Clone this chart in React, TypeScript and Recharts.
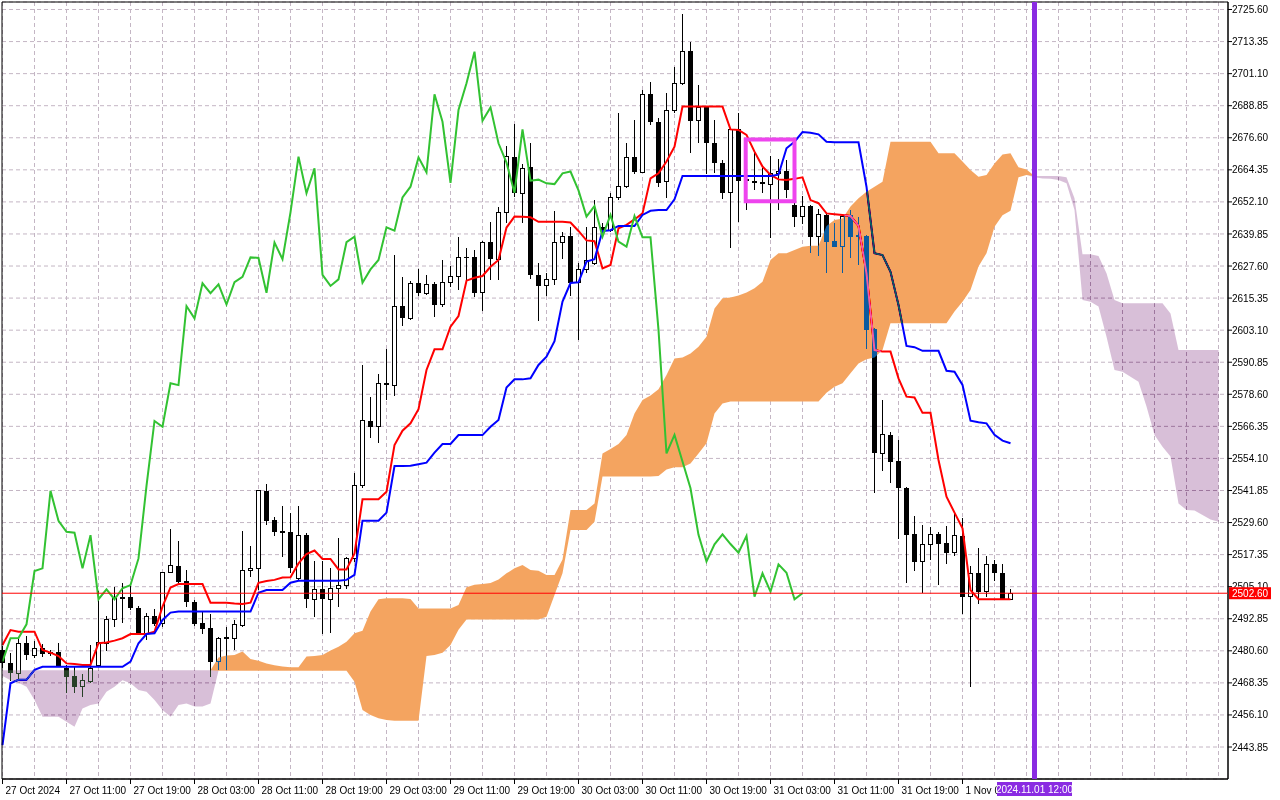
import React from "react";
import {
  ComposedChart,
  Area,
  Bar,
  Line,
  XAxis,
  YAxis,
  CartesianGrid,
  ReferenceLine,
  ReferenceArea,
} from "recharts";

const FONT = "'Liberation Sans', Arial, sans-serif";

// time axis: one label every 8 hourly bars
const timeTickBars = [0, 8, 16, 24, 32, 40, 48, 56, 64, 72, 80, 88, 96, 104, 112, 120];
const timeTickLabels = [
  "27 Oct 2024", "27 Oct 11:00", "27 Oct 19:00", "28 Oct 03:00", "28 Oct 11:00", "28 Oct 19:00",
  "29 Oct 03:00", "29 Oct 11:00", "29 Oct 19:00", "30 Oct 03:00", "30 Oct 11:00", "30 Oct 19:00",
  "31 Oct 03:00", "31 Oct 11:00", "31 Oct 19:00", "1 Nov 03:00",
];
const gridBars = [
  0, 4, 8, 12, 16, 20, 24, 28, 32, 36, 40, 44, 48, 52, 56, 60, 64, 68, 72, 76,
  80, 84, 88, 92, 96, 100, 104, 108, 112, 116, 120, 124, 128, 132, 136, 140, 144, 148, 152,
];
const priceTicks = [
  2443.85, 2456.1, 2468.35, 2480.6, 2492.85, 2505.1, 2517.35, 2529.6, 2541.85, 2554.1, 2566.35, 2578.6,
  2590.85, 2603.1, 2615.35, 2627.6, 2639.85, 2652.1, 2664.35, 2676.6, 2688.85, 2701.1, 2713.35, 2725.6,
];

const opens = [
  2480.9, 2476.1, 2472.0, 2483.5, 2478.9, 2481.5, 2479.6, 2480.1, 2474.2, 2471.0,
  2466.9, 2468.8, 2474.9, 2483.5, 2492.6, 2500.8, 2501.3, 2497.1, 2487.3, 2493.9,
  2491.1, 2510.6, 2513.1, 2507.3, 2499.1, 2491.3, 2489.3, 2476.7, 2485.2, 2485.4,
  2490.4, 2511.1, 2512.1, 2541.7, 2530.6, 2526.4, 2526.1, 2508.3, 2524.8, 2500.3,
  2504.1, 2500.3, 2504.5, 2505.7, 2515.9, 2543.6, 2568.4, 2566.2, 2583.0, 2582.1,
  2612.3, 2607.6, 2621.0, 2617.2, 2620.6, 2612.9, 2621.4, 2623.5, 2630.9, 2630.9,
  2617.4, 2636.6, 2630.2, 2648.1, 2669.4, 2655.4, 2665.3, 2624.2, 2620.0, 2622.5,
  2636.7, 2639.1, 2621.2, 2626.3, 2628.6, 2642.4, 2641.1, 2653.8, 2657.9, 2669.1,
  2663.4, 2693.2, 2682.7, 2659.8, 2687.2, 2697.4, 2709.7, 2683.1, 2688.2, 2674.5,
  2667.1, 2655.6, 2679.8, 2660.2, 2660.1, 2659.6, 2658.9, 2662.9, 2663.9, 2650.9,
  2646.5, 2650.5, 2638.8, 2647.1, 2637.3, 2635.0, 2647.0, 2639.5, 2639.1, 2603.4,
  2556.0, 2563.1, 2553.1, 2542.9, 2525.1, 2514.7, 2521.3, 2525.1, 2521.7, 2518.1,
  2524.5, 2501.3, 2510.2, 2503.2, 2513.6, 2510.4, 2500.3,
];
const highs = [
  2482.5, 2479.9, 2485.4, 2486.3, 2484.5, 2483.2, 2481.0, 2483.5, 2475.2, 2474.5,
  2471.7, 2482.8, 2503.6, 2494.0, 2504.8, 2506.4, 2506.4, 2497.7, 2495.2, 2496.4,
  2510.8, 2527.0, 2522.7, 2511.5, 2500.0, 2495.6, 2494.7, 2486.0, 2489.8, 2492.4,
  2526.4, 2520.6, 2542.0, 2544.3, 2531.6, 2535.9, 2533.1, 2535.9, 2525.7, 2515.0,
  2515.0, 2512.1, 2523.6, 2516.6, 2548.4, 2589.8, 2577.7, 2586.4, 2595.8, 2631.8,
  2623.5, 2622.0, 2626.3, 2624.2, 2621.6, 2629.9, 2627.6, 2638.5, 2634.4, 2633.7,
  2637.3, 2644.5, 2650.3, 2673.4, 2681.9, 2666.6, 2674.5, 2628.6, 2624.8, 2648.6,
  2640.7, 2642.4, 2628.6, 2642.4, 2652.8, 2643.9, 2655.6, 2685.9, 2674.5, 2683.4,
  2694.8, 2698.0, 2684.0, 2693.6, 2703.5, 2723.9, 2713.3, 2696.8, 2688.7, 2683.4,
  2668.1, 2680.2, 2686.2, 2665.0, 2670.7, 2664.9, 2669.6, 2668.4, 2668.1, 2652.8,
  2654.4, 2650.9, 2649.3, 2647.4, 2643.9, 2647.0, 2649.0, 2646.5, 2639.5, 2604.0,
  2576.4, 2564.1, 2561.1, 2543.1, 2532.1, 2528.7, 2528.0, 2526.1, 2528.3, 2533.1,
  2531.2, 2513.0, 2519.8, 2516.8, 2515.3, 2513.8, 2504.2,
];
const lows = [
  2474.0, 2469.2, 2469.5, 2477.1, 2477.7, 2478.4, 2478.6, 2474.5, 2464.6, 2464.6,
  2463.1, 2468.2, 2474.5, 2480.5, 2489.8, 2491.3, 2496.2, 2487.3, 2484.7, 2490.1,
  2489.8, 2510.2, 2506.4, 2497.5, 2490.1, 2487.0, 2470.5, 2473.3, 2473.3, 2480.9,
  2489.8, 2508.7, 2504.0, 2528.7, 2524.5, 2516.6, 2510.5, 2507.7, 2496.8, 2493.4,
  2487.0, 2487.5, 2497.2, 2504.1, 2514.7, 2542.7, 2561.8, 2560.1, 2576.4, 2577.9,
  2604.7, 2607.0, 2616.1, 2616.5, 2608.2, 2612.1, 2619.5, 2618.4, 2622.2, 2615.6,
  2610.5, 2622.2, 2622.2, 2643.9, 2653.8, 2643.9, 2622.5, 2606.7, 2616.2, 2620.3,
  2630.2, 2616.2, 2599.3, 2624.8, 2628.0, 2638.8, 2640.7, 2652.8, 2657.3, 2662.8,
  2663.0, 2681.5, 2657.9, 2653.5, 2685.9, 2696.8, 2670.7, 2674.7, 2662.8, 2663.0,
  2653.1, 2634.3, 2644.5, 2649.0, 2656.6, 2655.4, 2638.2, 2649.0, 2653.5, 2642.6,
  2643.7, 2632.7, 2631.4, 2625.1, 2634.8, 2625.1, 2630.6, 2628.0, 2595.8, 2540.8,
  2549.4, 2544.8, 2523.2, 2506.4, 2511.2, 2502.8, 2515.3, 2505.8, 2513.8, 2516.8,
  2494.7, 2466.9, 2498.5, 2501.3, 2507.4, 2500.3, 2500.3,
];
const closes = [
  2475.8, 2472.0, 2483.5, 2478.9, 2481.5, 2479.3, 2479.9, 2474.8, 2470.7, 2466.9,
  2469.1, 2473.9, 2483.8, 2492.7, 2500.6, 2501.0, 2496.8, 2487.5, 2493.9, 2490.8,
  2510.6, 2513.1, 2507.0, 2499.1, 2490.8, 2489.0, 2476.5, 2485.4, 2485.5, 2490.7,
  2511.1, 2512.1, 2541.7, 2530.3, 2526.1, 2525.7, 2512.1, 2524.8, 2500.3, 2504.1,
  2500.3, 2504.5, 2505.7, 2515.9, 2543.6, 2568.4, 2566.2, 2582.8, 2582.1, 2612.3,
  2607.6, 2621.0, 2617.2, 2620.6, 2612.9, 2621.4, 2623.5, 2630.9, 2630.7, 2617.4,
  2636.6, 2630.2, 2648.1, 2669.4, 2655.4, 2664.9, 2624.2, 2620.0, 2622.5, 2636.7,
  2638.8, 2621.2, 2626.3, 2629.9, 2642.4, 2641.1, 2653.8, 2657.9, 2669.1, 2663.4,
  2693.2, 2682.7, 2659.4, 2687.2, 2697.4, 2709.5, 2683.1, 2688.2, 2674.5, 2667.1,
  2655.6, 2679.8, 2660.2, 2660.6, 2659.2, 2658.9, 2663.0, 2663.7, 2656.5, 2646.5,
  2650.5, 2638.8, 2647.1, 2636.9, 2635.0, 2646.7, 2638.6, 2638.6, 2603.2, 2556.0,
  2563.1, 2552.9, 2542.7, 2524.9, 2514.7, 2521.3, 2525.1, 2521.4, 2518.1, 2524.5,
  2501.3, 2510.2, 2503.2, 2513.6, 2510.4, 2500.3, 2502.6,
];

const tenkan = [
  2482.8, 2488.5, 2487.9, 2487.9, 2487.9, 2480.9, 2479.9, 2478.6, 2475.8, 2475.6,
  2475.2, 2475.2, 2483.5, 2483.8, 2484.5, 2485.4, 2487.0, 2487.0, 2487.0, 2487.9,
  2497.5, 2504.8, 2506.1, 2506.1, 2506.1, 2506.1, 2499.0, 2499.0, 2499.0, 2498.7,
  2498.5, 2499.0, 2506.6, 2507.3, 2507.7, 2508.6, 2508.7, 2514.0, 2517.6, 2518.9,
  2515.7, 2515.7, 2511.7, 2511.7, 2517.8, 2538.5, 2538.5, 2538.5, 2541.4, 2559.2,
  2564.7, 2567.5, 2572.9, 2587.9, 2595.8, 2595.8, 2604.4, 2608.5, 2622.0, 2623.1,
  2623.8, 2627.3, 2629.9, 2642.3, 2646.5, 2646.4, 2646.2, 2644.5, 2644.5, 2644.5,
  2644.5, 2644.2, 2641.0, 2637.4, 2637.1, 2626.7, 2628.0, 2642.0, 2643.3, 2645.4,
  2647.7, 2661.1, 2663.0, 2667.5, 2673.2, 2688.5, 2688.5, 2688.5, 2688.5, 2688.5,
  2688.5, 2679.8, 2679.6, 2677.7, 2671.3, 2665.6, 2662.4, 2660.7, 2660.5, 2660.9,
  2661.5, 2652.8, 2651.6, 2647.7, 2647.4, 2647.1, 2646.7, 2642.9, 2624.8, 2595.5,
  2594.9, 2594.9, 2584.7, 2577.7, 2577.4, 2571.5, 2571.5, 2553.5, 2539.5, 2533.4,
  2527.4, 2503.8, 2500.3, 2500.3, 2500.3, 2500.3, 2500.3,
];
const kijun = [
  2444.6, 2468.2, 2469.5, 2469.5, 2473.3, 2474.5, 2474.5, 2474.5, 2474.5, 2474.5,
  2474.5, 2474.5, 2474.5, 2474.5, 2474.5, 2474.5, 2476.5, 2483.5, 2487.0, 2487.3,
  2492.4, 2495.2, 2495.6, 2495.6, 2495.6, 2495.6, 2495.6, 2495.6, 2495.6, 2495.6,
  2495.6, 2495.6, 2502.8, 2503.8, 2503.8, 2503.8, 2506.6, 2507.4, 2507.4, 2507.4,
  2507.4, 2507.4, 2507.4, 2507.7, 2509.6, 2530.3, 2530.3, 2530.3, 2533.4, 2551.2,
  2551.2, 2551.3, 2551.9, 2552.5, 2556.3, 2559.6, 2559.6, 2563.0, 2563.0, 2563.0,
  2563.0, 2566.2, 2568.8, 2581.2, 2584.3, 2584.3, 2584.7, 2589.8, 2593.0, 2598.9,
  2614.0, 2621.1, 2621.4, 2629.3, 2630.2, 2641.0, 2641.3, 2642.9, 2642.9, 2642.9,
  2647.1, 2648.7, 2649.0, 2649.0, 2653.1, 2662.0, 2662.0, 2662.0, 2662.0, 2662.0,
  2662.0, 2662.0, 2662.0, 2662.0, 2662.0, 2662.0, 2662.0, 2662.5, 2672.6, 2675.1,
  2678.8, 2678.5, 2677.9, 2675.1, 2674.9, 2674.9, 2674.9, 2674.9, 2657.9, 2632.5,
  2631.8, 2625.4, 2612.7, 2597.1, 2596.6, 2595.2, 2595.2, 2595.2, 2587.6, 2587.2,
  2582.2, 2568.5, 2567.9, 2567.5, 2563.1, 2560.9, 2559.9,
];

// senkou spans, already placed at the bars where they are drawn (26 ahead)
const spanA = [
  2471.0, 2469.4, 2468.4, 2466.9, 2461.8, 2455.4, 2455.4, 2455.4, 2453.5, 2451.6,
  2458.6, 2459.9, 2460.5, 2465.0, 2466.9, 2469.4, 2468.2, 2465.6, 2465.0, 2461.8,
  2458.0, 2455.4, 2459.9, 2460.5, 2459.3, 2459.3, 2460.5, 2478.0, 2478.8, 2479.0,
  2480.3, 2477.5, 2476.8, 2475.8, 2475.1, 2474.6, 2474.3, 2474.3, 2478.4, 2478.6,
  2479.0, 2480.7, 2482.2, 2484.1, 2487.3, 2488.3, 2495.6, 2500.3, 2500.7, 2500.7,
  2500.7, 2500.4, 2496.8, 2496.8, 2496.8, 2496.8, 2496.8, 2498.1, 2504.9, 2505.8,
  2506.1, 2506.5, 2507.8, 2510.2, 2512.1, 2513.4, 2511.5, 2511.2, 2509.6, 2509.6,
  2515.5, 2534.4, 2534.4, 2534.4, 2536.9, 2556.0, 2557.7, 2559.6, 2563.0, 2571.3,
  2576.4, 2578.1, 2580.5, 2586.0, 2592.3, 2592.7, 2594.2, 2596.8, 2600.6, 2611.4,
  2615.3, 2615.6, 2616.3, 2617.5, 2619.1, 2621.6, 2629.9, 2632.5, 2632.5, 2633.7,
  2635.0, 2635.3, 2635.3, 2642.9, 2645.2, 2645.8, 2650.3, 2653.5, 2656.0, 2657.9,
  2659.8, 2675.1, 2675.1, 2675.1, 2675.1, 2675.1, 2675.1, 2670.7, 2670.7, 2670.7,
  2667.5, 2664.3, 2661.7, 2662.4, 2666.8, 2670.2, 2670.7, 2665.3, 2664.5, 2661.5,
  2661.0, 2660.9, 2660.5, 2659.2, 2649.0, 2614.6, 2614.0, 2612.1, 2600.6, 2587.9,
  2587.2, 2585.3, 2583.4, 2573.9, 2563.0, 2558.6, 2554.8, 2536.9, 2534.4, 2534.2,
  2532.5, 2530.8, 2529.9,
];
const spanB = [
  2473.2, 2473.2, 2473.2, 2473.2, 2473.2, 2473.2, 2473.2, 2473.2, 2473.2, 2473.2,
  2473.2, 2473.2, 2473.2, 2473.2, 2473.2, 2473.2, 2473.2, 2473.2, 2473.2, 2473.2,
  2473.2, 2473.2, 2473.2, 2473.2, 2473.2, 2473.2, 2473.2, 2473.0, 2473.0, 2473.0,
  2473.0, 2473.0, 2473.0, 2473.0, 2473.0, 2473.0, 2473.0, 2473.0, 2473.0, 2473.0,
  2473.0, 2473.0, 2473.0, 2473.0, 2468.8, 2458.0, 2456.1, 2454.8, 2454.2, 2453.9,
  2453.9, 2453.9, 2453.9, 2478.6, 2479.0, 2479.9, 2482.8, 2488.6, 2492.6, 2492.6,
  2492.6, 2492.6, 2492.6, 2492.6, 2492.6, 2492.6, 2492.6, 2492.6, 2493.6, 2501.9,
  2510.2, 2526.8, 2526.8, 2526.8, 2529.9, 2547.2, 2547.2, 2547.2, 2547.2, 2547.2,
  2547.2, 2547.2, 2547.4, 2549.9, 2550.7, 2550.7, 2552.2, 2556.0, 2559.9, 2571.3,
  2575.1, 2575.8, 2575.8, 2575.8, 2575.8, 2575.8, 2575.8, 2575.8, 2575.8, 2575.8,
  2575.8, 2575.8, 2575.8, 2579.2, 2581.5, 2582.8, 2586.6, 2590.4, 2592.0, 2592.7,
  2595.5, 2605.7, 2605.7, 2605.7, 2605.7, 2605.7, 2605.7, 2605.7, 2605.7, 2610.2,
  2614.0, 2618.4, 2627.4, 2632.5, 2642.6, 2647.0, 2648.7, 2661.5, 2662.4, 2662.0,
  2662.0, 2662.0, 2662.0, 2661.5, 2653.5, 2632.1, 2632.1, 2631.4, 2624.8, 2614.6,
  2613.4, 2613.4, 2613.4, 2613.4, 2613.4, 2613.4, 2609.5, 2595.5, 2595.5, 2595.5,
  2595.5, 2595.5, 2595.5,
];

const CHIKOU_SHIFT = 26;
const markerBar = 129;
const markerLabel = "2024.11.01 12:00";
const highlight = { x1: 92.9, x2: 99, y1: 2652.3, y2: 2675.9 };

const X_MIN = -0.0625;
const X_MAX = 153.1875;
const Y_MIN = 2431.63;
const Y_MAX = 2728.465;

const rows = spanA.map((a, i) => {
  const b = spanB[i];
  const has = i < closes.length;
  const lag = i + CHIKOU_SHIFT;
  return {
    i,
    open: has ? opens[i] : null,
    high: has ? highs[i] : null,
    low: has ? lows[i] : null,
    close: has ? closes[i] : null,
    tenkan: has ? tenkan[i] : null,
    kijun: has ? kijun[i] : null,
    chikou: lag < closes.length ? closes[lag] : null,
    // sandybrown when span A is on top, thistle when span B is on top
    orange: a >= b ? [b, a] : [b, b],
    thistle: b > a ? [a, b] : [b, b],
  };
});

const lastClose = closes[closes.length - 1];

function Candle(props: any) {
  const { x, y, width, height, payload } = props;
  if (!payload || payload.high == null || !Number.isFinite(y)) return <g />;
  const top = Math.min(y, y + height);
  const span = Math.abs(height);
  const range = payload.high - payload.low;
  const toY = (v: number) => (range > 0 ? top + ((payload.high - v) / range) * span : top);
  const cx = Math.floor(x + width / 2) + 0.5;
  const yo = toY(payload.open);
  const yc = toY(payload.close);
  const bodyTop = Math.min(yo, yc);
  const bodyH = Math.max(Math.abs(yc - yo), 1);
  const bull = payload.close >= payload.open;
  return (
    <g shapeRendering="crispEdges">
      <line x1={cx} x2={cx} y1={top} y2={top + span} stroke="#000" />
      {bull ? (
        <rect x={cx - 2} y={bodyTop} width={4} height={bodyH} fill="#fff" stroke="#000" />
      ) : (
        <rect x={cx - 2.5} y={bodyTop} width={5} height={bodyH} fill="#000" />
      )}
    </g>
  );
}

function TimeTick(props: any) {
  const { x, y, payload } = props;
  const idx = timeTickBars.indexOf(payload.value);
  return (
    <text x={x + 3} y={y + 8} fontSize={10} fontFamily={FONT} fill="#000" textAnchor="start">
      {idx >= 0 ? timeTickLabels[idx] : ""}
    </text>
  );
}

function PriceTag(props: any) {
  const vb = props.viewBox || {};
  const x = vb.x + vb.width + 1;
  const y = vb.y;
  return (
    <g>
      <rect x={x} y={y - 6} width={42} height={12} fill="#ff0000" />
      <text x={x + 3} y={y + 4} fontSize={10} fontFamily={FONT} fill="#fff">
        {lastClose.toFixed(2)}
      </text>
    </g>
  );
}

function TimeTag(props: any) {
  const vb = props.viewBox || {};
  const cx = vb.x;
  const y = vb.y + vb.height + 3;
  return (
    <g>
      <rect x={cx - 37.5} y={y} width={75} height={14} fill="#8a2be2" />
      <text x={cx} y={y + 11} fontSize={10} fontFamily={FONT} fill="#fff" textAnchor="middle">
        {markerLabel}
      </text>
    </g>
  );
}

function gridX(props: any) {
  const { xAxis, offset } = props;
  if (xAxis && typeof xAxis.scale === "function") return gridBars.map((b) => xAxis.scale(b));
  return gridBars.map((b) => offset.left + ((b - X_MIN) / (X_MAX - X_MIN)) * offset.width);
}

export default function App() {
  return (
    <div style={{ position: "absolute", left: 0, top: 0, width: 1280, height: 800, background: "#fff" }}>
      <style>{`.cloud-ink { mix-blend-mode: difference; }`}</style>
      <ComposedChart width={1280} height={800} data={rows} margin={{ top: 2, right: 0, bottom: 0, left: 2 }}>
        <CartesianGrid fill="#fff" stroke="#c4b6c4" strokeDasharray="4 3" verticalCoordinatesGenerator={gridX} />
        <XAxis
          dataKey="i"
          type="number"
          domain={[X_MIN, X_MAX]}
          ticks={timeTickBars}
          interval={0}
          tick={<TimeTick />}
          tickSize={5}
          height={21}
          stroke="#000"
        />
        <YAxis
          orientation="right"
          type="number"
          domain={[Y_MIN, Y_MAX]}
          ticks={priceTicks}
          interval={0}
          width={52}
          tickSize={4}
          tickMargin={0}
          stroke="#000"
          tick={{ fill: "#000", fontSize: 10, fontFamily: FONT }}
          tickFormatter={(v: number) => v.toFixed(2)}
        />
        <Area
          dataKey="orange"
          type="linear"
          fill="#ffffff"
          fillOpacity={1}
          stroke="none"
          dot={false}
          activeDot={false}
          isAnimationActive={false}
          zIndex={50}
        />
        <Bar
          dataKey={(d: any) => (d.high == null ? null : [d.low, d.high])}
          barSize={5}
          shape={(p: any) => <Candle {...p} />}
          isAnimationActive={false}
        />
        <Line dataKey="tenkan" type="linear" stroke="#ff0000" strokeWidth={2} dot={false} activeDot={false} isAnimationActive={false} />
        <Line dataKey="kijun" type="linear" stroke="#0000ff" strokeWidth={2} dot={false} activeDot={false} isAnimationActive={false} />
        <Area
          className="cloud-ink"
          dataKey="orange"
          type="linear"
          fill="#0b5b9f"
          fillOpacity={1}
          stroke="none"
          dot={false}
          activeDot={false}
          isAnimationActive={false}
          zIndex={450}
        />
        <Area
          className="cloud-ink"
          dataKey="thistle"
          type="linear"
          fill="#274027"
          fillOpacity={1}
          stroke="none"
          dot={false}
          activeDot={false}
          isAnimationActive={false}
          zIndex={450}
        />
        <Line dataKey="chikou" type="linear" stroke="#32c232" strokeWidth={2} dot={false} activeDot={false} isAnimationActive={false} zIndex={460} />
        <ReferenceArea
          x1={highlight.x1}
          x2={highlight.x2}
          y1={highlight.y1}
          y2={highlight.y2}
          fill="none"
          fillOpacity={0}
          stroke="#ee44ee"
          strokeWidth={4}
          zIndex={600}
        />
        <ReferenceArea x1={X_MIN} x2={X_MAX} y1={Y_MIN} y2={Y_MAX} fill="none" fillOpacity={0} stroke="#000" zIndex={600} />
        <ReferenceLine x={markerBar} stroke="#8a2be2" strokeWidth={5} label={<TimeTag />} zIndex={2100} />
        <ReferenceLine y={lastClose} stroke="#ff0000" strokeWidth={1} label={<PriceTag />} zIndex={2100} />
      </ComposedChart>
    </div>
  );
}
